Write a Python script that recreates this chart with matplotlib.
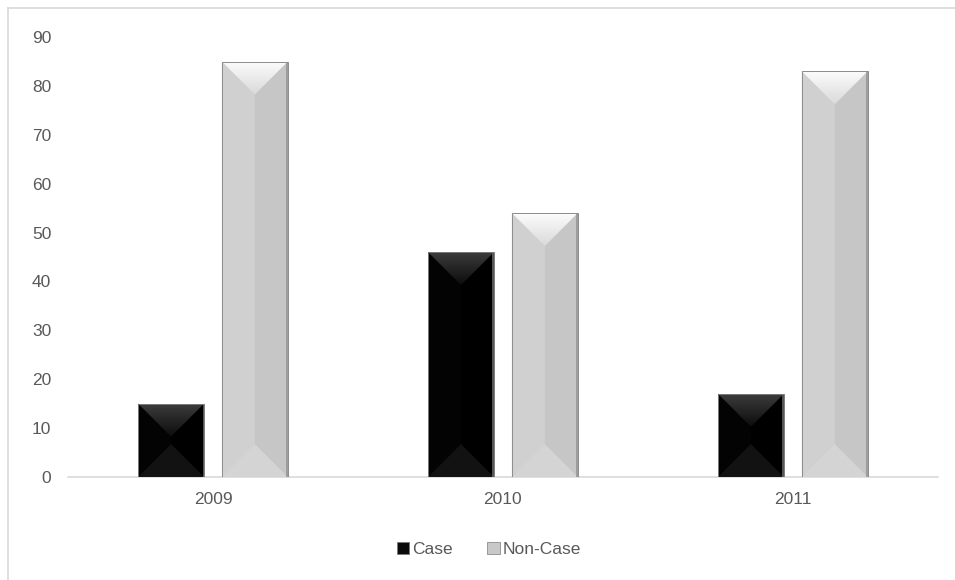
import numpy as np
import matplotlib.pyplot as plt
from matplotlib.patches import Polygon, Rectangle
from matplotlib.lines import Line2D

years = ["2009", "2010", "2011"]
case = [15, 46, 17]
non_case = [85, 54, 83]
y_ticks = [0, 10, 20, 30, 40, 50, 60, 70, 80, 90]

plt.rcParams['font.family'] = ['Liberation Sans', 'DejaVu Sans']
text_col = "#595959"

# bevel shading: (left, right, top_light, top_dark, bottom, edge)
styles = {
    "Case": ("#030303", "#000000", "#3c3c3c", "#0c0c0c", "#121212", "#7a7a7a"),
    "Non-Case": ("#d0d0d0", "#c6c6c6", "#fcfcfc", "#dadada", "#d4d4d4", "#8c8c8c"),
}

fig = plt.figure(figsize=(9.55, 5.8), dpi=100)
ax = fig.add_axes([0.0712, 0.1776, 0.9108, 0.7584])

x = np.arange(len(years))
width = 0.227
gap = 0.062
bars_case = ax.bar(x - (width + gap) / 2, case, width, color=styles["Case"][0], zorder=2)
bars_non = ax.bar(x + (width + gap) / 2, non_case, width, color=styles["Non-Case"][0], zorder=2)

ax.set_xlim(-0.5, 2.5)
ax.set_ylim(0, 90)
ax.set_yticks(y_ticks)
ax.set_xticks(x)
ax.set_xticklabels(years)
ax.tick_params(length=0, labelsize=12.5, labelcolor=text_col)
ax.tick_params(axis="x", pad=11)
ax.tick_params(axis="y", pad=12)
for s in ["top", "right", "left"]:
    ax.spines[s].set_visible(False)
ax.spines["bottom"].set_color("#d9d9d9")
ax.spines["bottom"].set_linewidth(1.2)

# pixels per data unit, used to keep the bevel at 45 degrees
bbox = ax.get_window_extent()
px_x = bbox.width / 3.0
px_y = bbox.height / 90.0


def gradient_fill(poly, c_top, c_bot, y_top, y_bot, x0, x1):
    grad = np.linspace(0, 1, 64).reshape(-1, 1)
    ct = np.array(plt.matplotlib.colors.to_rgb(c_top))
    cb = np.array(plt.matplotlib.colors.to_rgb(c_bot))
    img = ct + (cb - ct) * grad[..., None]
    img = np.repeat(img, 2, axis=1)
    im = ax.imshow(img, extent=[x0, x1, y_bot, y_top], aspect="auto",
                   zorder=3, interpolation="bilinear")
    im.set_clip_path(poly)


def bevel(bar, style):
    left, right, top_l, top_d, bottom, edge = style
    x0 = bar.get_x()
    w = bar.get_width()
    x1 = x0 + w
    h = bar.get_height()
    cx = x0 + w / 2
    d = min((w / 2) * px_x / px_y, h / 2)
    ax.add_patch(Polygon([(x0, 0), (x0, h), (cx, h - d), (cx, d)],
                         closed=True, fc=left, ec="none", zorder=3))
    ax.add_patch(Polygon([(x1, 0), (x1, h), (cx, h - d), (cx, d)],
                         closed=True, fc=right, ec="none", zorder=3))
    ax.add_patch(Polygon([(x0, 0), (x1, 0), (cx, d)],
                         closed=True, fc=bottom, ec="none", zorder=3))
    top = Polygon([(x0, h), (x1, h), (cx, h - d)], closed=True,
                  fc="none", ec="none", zorder=3)
    ax.add_patch(top)
    gradient_fill(top, top_l, top_d, h, h - d, x0, x1)
    ax.add_patch(Rectangle((x0, 0), w, h, fc="none", ec=edge, lw=0.7, zorder=4))
    ax.add_patch(Rectangle((x1 - w * 0.022, 0), w * 0.022, h, fc=edge,
                           ec="none", alpha=0.7, zorder=4))


for b in bars_case:
    bevel(b, styles["Case"])
for b in bars_non:
    bevel(b, styles["Non-Case"])

ax.set_xlim(-0.5, 2.5)
ax.set_ylim(0, 90)

# legend
h1 = Rectangle((0, 0), 1, 1, fc="#0a0a0a", ec="#7a7a7a", lw=0.6)
h2 = Rectangle((0, 0), 1, 1, fc="#c8c8c8", ec="#8c8c8c", lw=0.6)
fig.legend([h1, h2], ["Case", "Non-Case"], loc="center", ncol=2,
           bbox_to_anchor=(0.512, 0.053), frameon=False, fontsize=12.5,
           labelcolor=text_col, handlelength=0.7, handleheight=0.7,
           handletextpad=0.15, columnspacing=2.0)

# chart border
fig.add_artist(Line2D([0.0084, 0.0084], [0, 0.986], color="#d9d9d9", lw=1.2))
fig.add_artist(Line2D([0.0084, 1.0], [0.986, 0.986], color="#d9d9d9", lw=1.2))

fig.savefig("out.png", dpi=100, facecolor="white")
